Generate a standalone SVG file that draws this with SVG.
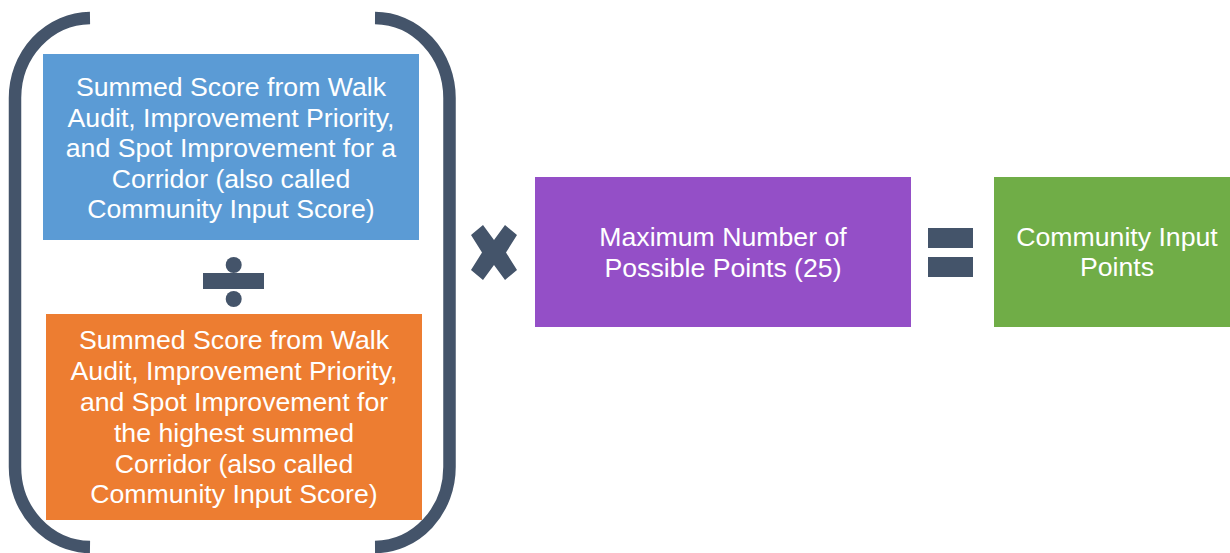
<svg xmlns="http://www.w3.org/2000/svg" width="1230" height="553" viewBox="0 0 1230 553">
  <style>
    .lbl { font-family: "Liberation Sans", Arial, sans-serif; font-size: 26.67px; fill: #FFFFFF; text-anchor: middle; }
    .op { fill: #44546A; }
    .br { fill: none; stroke: #44546A; stroke-width: 12.5; }
  </style>
  <rect width="1230" height="553" fill="#FFFFFF"/>
  <g id="brackets">
    <path class="br" d="M90,18 A76,80 0 0 0 15,98 V467 A76,80 0 0 0 90,547"/>
    <path class="br" d="M375,18 A75,80 0 0 1 449.5,98 V467 A75,80 0 0 1 375,547"/>
  </g>
  <g id="node-corridor-score">
    <rect x="43" y="54" width="376" height="186" fill="#5B9BD5"/>
    <text class="lbl" x="231" y="96">Summed Score from Walk</text>
    <text class="lbl" x="231" y="126.5">Audit, Improvement Priority,</text>
    <text class="lbl" x="231" y="157">and Spot Improvement for a</text>
    <text class="lbl" x="231" y="187.5">Corridor (also called</text>
    <text class="lbl" x="231" y="218">Community Input Score)</text>
  </g>
  <g id="node-highest-score">
    <rect x="46" y="314" width="376" height="206" fill="#ED7D31"/>
    <text class="lbl" x="234" y="349">Summed Score from Walk</text>
    <text class="lbl" x="234" y="380">Audit, Improvement Priority,</text>
    <text class="lbl" x="234" y="411">and Spot Improvement for</text>
    <text class="lbl" x="234" y="442">the highest summed</text>
    <text class="lbl" x="234" y="472.5">Corridor (also called</text>
    <text class="lbl" x="234" y="503">Community Input Score)</text>
  </g>
  <g id="node-max-points">
    <rect x="535" y="177" width="376" height="150" fill="#944FC7"/>
    <text class="lbl" x="723" y="246">Maximum Number of</text>
    <text class="lbl" x="723" y="276.5">Possible Points (25)</text>
  </g>
  <g id="node-result">
    <rect x="994" y="177" width="246" height="150" fill="#70AD47"/>
    <text class="lbl" x="1117" y="245.5">Community Input</text>
    <text class="lbl" x="1117" y="276">Points</text>
  </g>
  <g id="connectors">
    <g id="op-divide" class="op">
      <circle cx="233.7" cy="265" r="8"/>
      <rect x="203" y="273" width="61" height="16"/>
      <circle cx="233.7" cy="299" r="8"/>
    </g>
    <polygon id="op-multiply" class="op" points="471,235 483,225 494,240 505,225 517,235 506,252.5 517,270 505,280 494,265 483,280 471,270 482,252.5"/>
    <g id="op-equals" class="op">
      <rect x="928" y="228" width="45" height="20"/>
      <rect x="928" y="257" width="45" height="20"/>
    </g>
  </g>
</svg>
